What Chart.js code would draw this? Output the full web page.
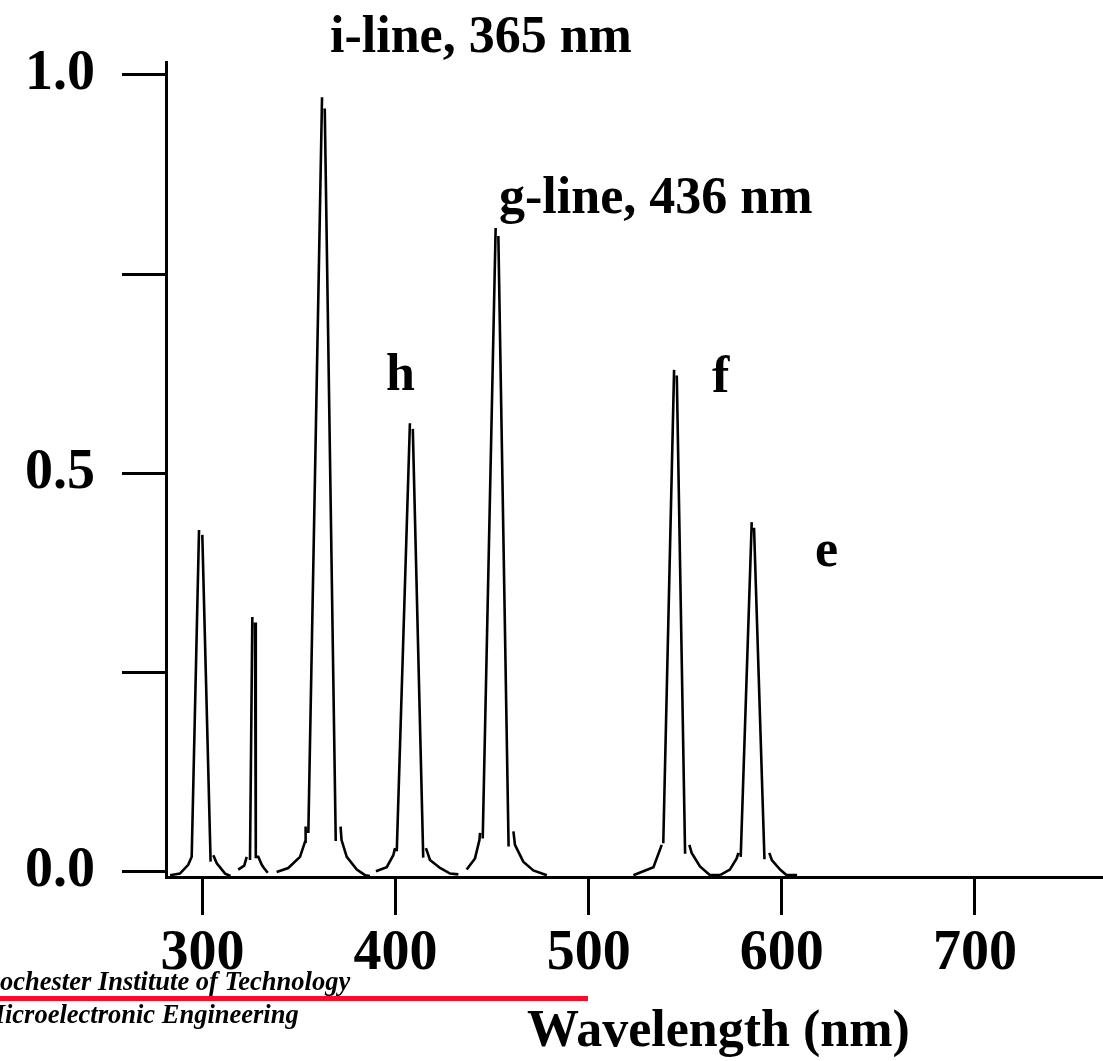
<!DOCTYPE html>
<html>
<head>
<meta charset="utf-8">
<script src="https://cdn.jsdelivr.net/npm/chart.js@4.4.0/dist/chart.umd.min.js"></script>
<style>
html, body { margin: 0; padding: 0; background: #fff; }
#caixa { width: 1103px; height: 1061px; position: relative; }
</style>
</head>
<body>
<div id="caixa"><canvas id="meuGrafico"></canvas></div>
<script>
// Hg lamp spectrum. null = pen lifted (gap in the trace)
const pico297_nm  = [283.2, 288.3, 292.6, 294.4, 298.2, null, 299.9, 304.2, null, 305.6, 307.4, 311.7, 314.5];
const pico297_val = [-0.004, -0.002, 0.009, 0.019, 0.429, null, 0.423, 0.013, null, 0.021, 0.011, -0.002, -0.005];

const pico313_nm  = [318.5, 321.6, 322.9, null, 324.6, 325.8, null, 327.2, 327.6, 328.9, 330.7, 331.8, 333.8];
const pico313_val = [0.003, 0.008, 0.019, null, 0.015, 0.320, null, 0.313, 0.019, 0.019, 0.009, 0.005, -0.001];

const pico365_nm  = [338.4, 344.4, 350.5, 353.1, 353.4, null, 354.8, 361.9, null, 363.3, 369.0, null, 371.5, 372.0, 374.7, 379.9, 384.2, 386.7];
const pico365_val = [0.000, 0.005, 0.019, 0.038, 0.057, null, 0.049, 0.972, null, 0.958, 0.039, null, 0.057, 0.040, 0.019, 0.003, -0.004, -0.005];

const pico405_nm  = [389.8, 395.4, 398.8, 399.7, null, 400.6, 407.4, null, 408.9, 414.3, null, 415.7, 417.8, 423.0, 428.2, 432.5];
const pico405_val = [0.001, 0.006, 0.021, 0.030, null, 0.026, 0.563, null, 0.556, 0.018, null, 0.030, 0.015, 0.005, -0.002, -0.003];

const pico436_nm  = [436.8, 441.1, 443.4, 443.7, null, 445.1, 451.8, null, 453.2, 458.5, null, 461.0, 461.8, 466.1, 471.3, 478.3];
const pico436_val = [0.003, 0.017, 0.040, 0.049, null, 0.042, 0.808, null, 0.798, 0.032, null, 0.051, 0.034, 0.013, 0.002, -0.004];

const pico546_nm  = [523.1, 533.5, 536.9, 537.8, null, 538.6, 544.2, null, 545.6, 549.9, null, 552.1, 553.3, 557.6, 562.8, 568.0];
const pico546_val = [-0.004, 0.006, 0.028, 0.034, null, 0.036, 0.630, null, 0.623, 0.023, null, 0.034, 0.024, 0.007, -0.004, -0.004];

const pico578_nm  = [568.0, 573.1, 576.6, 577.5, null, 578.7, 584.4, null, 585.6, 591.0, null, 593.5, 594.8, 599.1, 602.5, 607.9];
const pico578_val = [-0.004, 0.003, 0.017, 0.024, null, 0.019, 0.439, null, 0.432, 0.016, null, 0.024, 0.015, 0.003, -0.004, -0.004];

const xTicks = [300, 400, 500, 600, 700];
const yTicks = [0, 0.25, 0.5, 0.75, 1.0];
const yLabels = { 0: '0.0', 0.5: '0.5', 1: '1.0' };

const fonteSerif = '"Liberation Serif", "Times New Roman", serif';

function serie(nm, val) {
    return {
        data: nm.map((x, i) => ({ x: x, y: val[i] })),
        borderColor: '#000',
        borderWidth: 2.6,
        pointRadius: 0,
        fill: false,
        tension: 0,
        spanGaps: false
    };
}

const dados = {
    datasets: [
        serie(pico297_nm, pico297_val),
        serie(pico313_nm, pico313_val),
        serie(pico365_nm, pico365_val),
        serie(pico405_nm, pico405_val),
        serie(pico436_nm, pico436_val),
        serie(pico546_nm, pico546_val),
        serie(pico578_nm, pico578_val)
    ]
};

// texts on top of the plot, title and the footer with the red bar
const textos = {
    id: 'textos',
    afterDraw(chart) {
        const ctx = chart.ctx;
        ctx.save();
        ctx.fillStyle = '#000';
        ctx.textBaseline = 'alphabetic';
        ctx.textAlign = 'left';

        ctx.font = 'bold 52px ' + fonteSerif;
        ctx.fillText('i-line, 365 nm', 330, 52);
        ctx.fillText('g-line, 436 nm', 499, 213);
        ctx.fillText('h', 386, 390);
        ctx.fillText('f', 712, 392);
        ctx.fillText('e', 815, 566);

        ctx.fillText('Wavelength (nm)', 527, 1046);

        ctx.font = 'italic bold 26.5px ' + fonteSerif;
        const r = ctx.measureText('R').width;
        ctx.fillText('Rochester Institute of Technology', -r, 990);
        const m = ctx.measureText('M').width;
        ctx.fillText('Microelectronic Engineering', -m + 5, 1023);

        ctx.fillStyle = '#ff0a2a';
        ctx.fillRect(0, 996, 588, 5);
        ctx.restore();
    }
};

var configuracao = {
    type: 'line',
    data: dados,
    options: {
        responsive: true,
        maintainAspectRatio: false,
        animation: false,
        devicePixelRatio: 1,
        layout: { padding: { top: 62, left: 0, right: 0, bottom: 0 } },
        plugins: {
            legend: { display: false },
            tooltip: { enabled: false }
        },
        scales: {
            x: {
                type: 'linear',
                min: 281.1,
                max: 766.3,
                afterBuildTicks: s => { s.ticks = xTicks.map(v => ({ value: v })); },
                afterFit: s => { s.height = 184; },
                grid: { drawOnChartArea: false, drawTicks: true, tickLength: 38, tickWidth: 3, tickColor: '#000' },
                border: { display: true, color: '#000', width: 3 },
                ticks: {
                    color: '#000',
                    padding: 6,
                    maxRotation: 0,
                    autoSkip: false,
                    font: { family: fonteSerif, size: 56, weight: 'bold' }
                }
            },
            y: {
                type: 'linear',
                min: -0.0063,
                max: 1.0163,
                afterBuildTicks: s => { s.ticks = yTicks.map(v => ({ value: v })); },
                afterFit: s => { s.width = 166; },
                grid: { drawOnChartArea: false, drawTicks: true, tickLength: 44, tickWidth: 3, tickColor: '#000' },
                border: { display: true, color: '#000', width: 3 },
                ticks: {
                    color: '#000',
                    padding: 27,
                    autoSkip: false,
                    callback: v => (yLabels[v] !== undefined ? yLabels[v] : ''),
                    font: { family: fonteSerif, size: 56, weight: 'bold' }
                }
            }
        }
    },
    plugins: [textos]
};

var meuGrafico = new Chart(document.getElementById('meuGrafico'), configuracao);
</script>
</body>
</html>
